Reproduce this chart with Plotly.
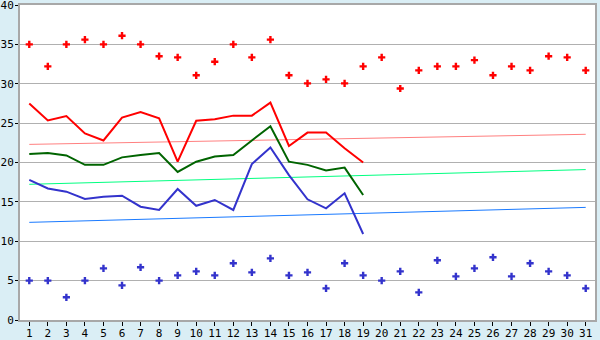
import plotly.graph_objects as go

days = list(range(1, 32))
tick_labels = [str(d) for d in days]

max_marks = [35.0, 32.2, 35.0, 35.6, 35.0, 36.1, 35.0, 33.5, 33.35, 31.07,
             32.8, 35.0, 33.35, 35.6, 31.07, 30.05, 30.55, 30.05, 32.2, 33.35,
             29.4, 31.7, 32.2, 32.2, 33.0, 31.07, 32.2, 31.7, 33.5, 33.35, 31.7]
min_marks = [5.0, 5.0, 2.88, 5.0, 6.56, 4.4, 6.69, 5.0, 5.67, 6.18,
             5.67, 7.2, 6.05, 7.83, 5.67, 6.05, 4.02, 7.2, 5.67, 5.0,
             6.18, 3.51, 7.58, 5.54, 6.56, 7.96, 5.54, 7.2, 6.18, 5.67, 4.02]

line_days = list(range(1, 20))
red_line = [27.5, 25.35, 25.9, 23.7, 22.8, 25.7, 26.4, 25.6, 20.1, 25.3,
            25.5, 25.95, 25.95, 27.6, 22.1, 23.8, 23.8, 21.8, 20.0]
green_line = [21.08, 21.2, 20.9, 19.7, 19.7, 20.65, 20.95, 21.2, 18.8, 20.1,
              20.75, 20.95, 22.8, 24.6, 20.1, 19.7, 19.0, 19.35, 15.87]
blue_line = [17.8, 16.7, 16.3, 15.37, 15.66, 15.79, 14.39, 13.97, 16.63, 14.5,
             15.24, 13.97, 19.8, 21.9, 18.4, 15.33, 14.18, 16.09, 10.92]

trend_days = [1, 31]
red_trend = [22.3, 23.58]
green_trend = [17.23, 19.1]
blue_trend = [12.4, 14.3]

fig = go.Figure()

def add_line(x, y, color, width):
    fig.add_trace(go.Scatter(x=x, y=y, mode="lines",
                             line=dict(color=color, width=width),
                             showlegend=False, hoverinfo="skip"))

add_line(trend_days, red_trend, "#FF8080", 1)
add_line(trend_days, green_trend, "#00FF80", 1)
add_line(trend_days, blue_trend, "#1A7AFF", 1)
add_line(line_days, red_line, "#FF0000", 2)
add_line(line_days, green_line, "#006400", 2)
add_line(line_days, blue_line, "#3333CC", 2)

fig.add_trace(go.Scatter(x=days, y=max_marks, mode="markers",
                         marker=dict(symbol="cross", size=6, color="#FF0000"),
                         showlegend=False))
fig.add_trace(go.Scatter(x=days, y=min_marks, mode="markers",
                         marker=dict(symbol="cross", size=6, color="#3333CC"),
                         showlegend=False))

fig.update_layout(
    width=600, height=340,
    margin=dict(l=20, r=5, t=5, b=20, autoexpand=False),
    paper_bgcolor="#DAEEF5",
    plot_bgcolor="#FFFFFF",
    font=dict(family="DejaVu Sans Mono", size=11, color="#000000"),
)
fig.update_xaxes(
    range=[0.5, 31.5], tickmode="array", tickvals=days, ticktext=tick_labels,
    showgrid=False, zeroline=False, automargin=False,
    showline=True, linecolor="#A8A8A8", linewidth=2, mirror=True,
    ticks="outside", ticklen=4, tickcolor="#000000", tickwidth=1,
    tickfont=dict(size=11), ticklabelstandoff=-2, ticklabeloverflow="allow",
)
fig.update_yaxes(
    range=[0, 40], tickmode="array", tickvals=[0, 5, 10, 15, 20, 25, 30, 35, 40],
    showgrid=True, gridcolor="#B0B0B0", gridwidth=1, zeroline=False, automargin=False,
    showline=True, linecolor="#A8A8A8", linewidth=2, mirror=True,
    ticks="outside", ticklen=3, tickcolor="#000000",
    tickfont=dict(size=11), ticklabelstandoff=-1, ticklabeloverflow="allow",
)

fig.write_html("out.html")
